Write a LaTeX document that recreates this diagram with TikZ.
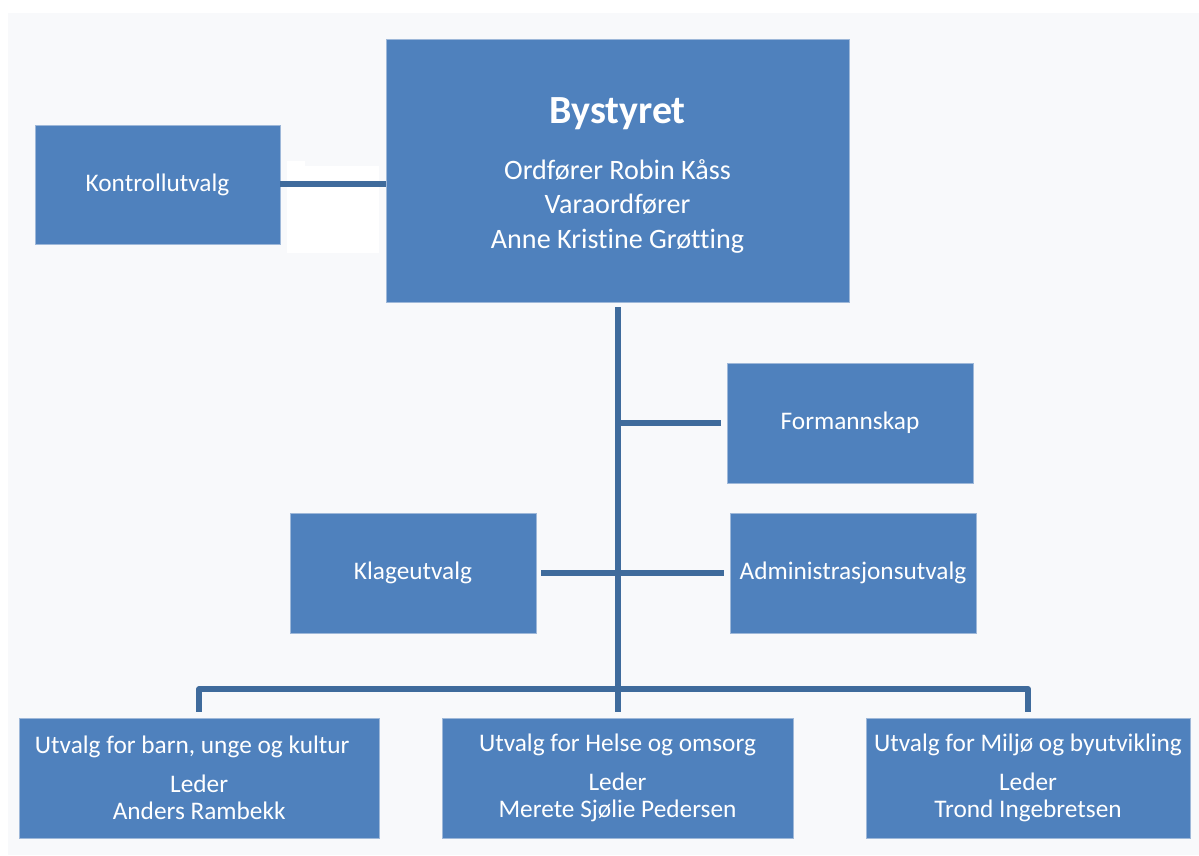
\documentclass[tikz,border=0pt]{standalone}
\usepackage{fontspec}
\setmainfont{Carlito}[Ligatures={NoCommon}]
\usepackage{tikz}

\begin{document}
\begin{tikzpicture}[
  box/.style={draw=cbd,line width=0.4pt,fill=cfv,text=white,shape=rectangle,align=center,inner sep=0pt,font=\fontsize{18}{19.2}\selectfont},
  link/.style={draw=ce,line width=0.15cm,line join=round}]
\definecolor{cbg}{rgb}{0.973,0.976,0.984}
\definecolor{cfv}{rgb}{0.31,0.506,0.741}
\definecolor{cbd}{rgb}{0.62,0.72,0.85}
\definecolor{ce}{rgb}{0.247,0.42,0.612}
%
\useasboundingbox (0,0) rectangle (29.975,21.375);
\fill[white] (0,0) rectangle (29.975,21.375);
\fill[cbg] (0.2,0) rectangle (29.975,21.05);
\fill[white] (7.175,15.05) rectangle (9.475,17.225);
\fill[white] (7.175,17.225) rectangle (7.625,17.35);
%
\node[box,minimum width=11.575cm,minimum height=6.575cm,font=\fontsize{20}{24.5}\selectfont] (bys) at (15.4375,17.1125)
  {\rule{0pt}{25pt}{\fontsize{28.4}{34}\selectfont\bfseries Bystyret}\\[15.3pt]Ordfører Robin Kåss\\Varaordfører\\Anne Kristine Grøtting};
\node[box,minimum width=6.125cm,minimum height=2.975cm] (kon) at (3.9375,16.7625) {Kontrollutvalg};
\node[box,minimum width=6.15cm,minimum height=3cm] (form) at (21.25,10.8) {Formannskap};
\node[box,minimum width=6.15cm,minimum height=3cm] (adm) at (21.325,7.05) {Administrasjonsutvalg};
\node[box,minimum width=6.15cm,minimum height=3cm] (kla) at (10.325,7.05) {Klageutvalg};
\node[box,minimum width=8.99cm,minimum height=3cm] (u1) at (4.98,1.925) {Utvalg for barn, unge og kultur\hspace*{0.35cm}\\[8.5pt]Leder\\Anders Rambekk};
\node[box,minimum width=8.775cm,minimum height=3cm] (u2) at (15.4375,1.925) {Utvalg for Helse og omsorg\\[8.5pt]Leder\\Merete Sjølie Pedersen};
\node[box,minimum width=8.1cm,minimum height=3cm] (u3) at (25.7,1.925) {Utvalg for Miljø og byutvikling\\[8.5pt]Leder\\Trond Ingebretsen};
%
\coordinate (top) at ([yshift=-0.125cm]bys.south);
\coordinate (bus) at (15.4375,4.15);
%
\draw[link] (kon.east) -- (kon.east -| bys.west);
\draw[link] (top) -- ([yshift=0.15cm]u2.north);
\draw[link] (top |- form.west) -- ([xshift=-0.14cm]form.west);
\draw[link] ([xshift=0.125cm]kla.east) -- ([xshift=-0.15cm]adm.west);
\draw[link] ([yshift=0.15cm]u1.north) |- (bus) -| ([yshift=0.15cm]u3.north);
%
\end{tikzpicture}
\end{document}
